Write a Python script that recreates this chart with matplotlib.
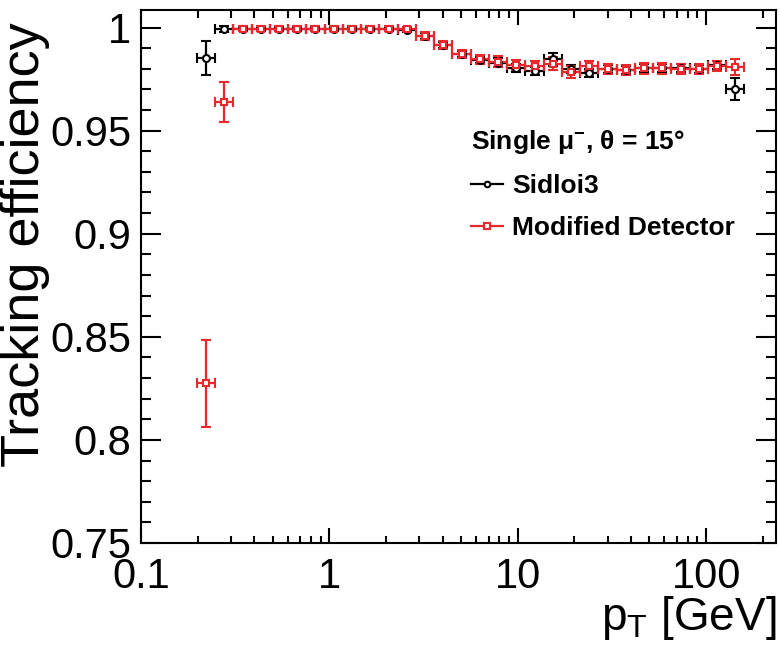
import matplotlib
matplotlib.use('Agg')
import matplotlib.pyplot as plt
import numpy as np
from matplotlib.lines import Line2D
from matplotlib.ticker import FuncFormatter, MultipleLocator, LogLocator

plt.rcParams['font.family'] = ['Liberation Sans', 'DejaVu Sans']
plt.rcParams['mathtext.fontset'] = 'custom'
plt.rcParams['mathtext.rm'] = 'Liberation Sans'
plt.rcParams['mathtext.it'] = 'Liberation Sans'
plt.rcParams['mathtext.bf'] = 'Liberation Sans:bold'

# pT bin centres (GeV)
pt = [0.221, 0.277, 0.346, 0.432, 0.540, 0.675, 0.844, 1.055, 1.319, 1.649,
      2.061, 2.576, 3.220, 4.025, 5.031, 6.289, 7.861, 9.827, 12.28, 15.35,
      19.19, 23.99, 29.99, 37.49, 46.86, 58.57, 73.22, 91.52, 114.4, 143.0]

eff_sid = [0.9851, 0.9992, 0.9995, 0.9995, 0.9995, 0.9995, 0.9995, 0.9995, 0.9995, 0.9995,
           0.9993, 0.9990, 0.9958, 0.9917, 0.9872, 0.9843, 0.9830, 0.9803, 0.9790, 0.9845,
           0.9800, 0.9780, 0.9800, 0.9795, 0.9804, 0.9804, 0.9804, 0.9800, 0.9818, 0.9703]
err_sid = [0.0083, 0.0015, 0.0008, 0.0008, 0.0008, 0.0008, 0.0008, 0.0008, 0.0008, 0.0008,
           0.0008, 0.0010, 0.0015, 0.0015, 0.0015, 0.0015, 0.0020, 0.0020, 0.0020, 0.0030,
           0.0020, 0.0020, 0.0020, 0.0020, 0.0020, 0.0020, 0.0020, 0.0020, 0.0020, 0.0053]

eff_mod = [0.8275, 0.9637, 0.9995, 0.9995, 0.9995, 0.9995, 0.9995, 0.9995, 0.9995, 0.9995,
           0.9995, 0.9993, 0.9960, 0.9915, 0.9872, 0.9845, 0.9835, 0.9818, 0.9812, 0.9825,
           0.9785, 0.9812, 0.9800, 0.9795, 0.9802, 0.9802, 0.9800, 0.9800, 0.9815, 0.9808]
err_mod = [0.0210, 0.0097, 0.0010, 0.0010, 0.0010, 0.0010, 0.0010, 0.0010, 0.0010, 0.0010,
           0.0010, 0.0010, 0.0020, 0.0020, 0.0020, 0.0020, 0.0025, 0.0025, 0.0025, 0.0030,
           0.0030, 0.0025, 0.0025, 0.0025, 0.0025, 0.0025, 0.0025, 0.0025, 0.0025, 0.0040]

RED = '#e8282d'
HALF = 1.118  # half bin width as a ratio (log bins)

fig = plt.figure(figsize=(7.8, 6.5), dpi=100)
ax = fig.add_axes([141/780, 1 - 543/650, 635/780, 533/650])

x = np.array(pt)
xerr = [x - x / HALF, x * HALF - x]

for eff, err, col, mk in [(eff_sid, err_sid, 'black', 'o'), (eff_mod, err_mod, RED, 's')]:
    ax.errorbar(x, eff, yerr=err, xerr=xerr, fmt=mk, color=col, mfc='white', mec=col,
                ms=5, mew=1.5, elinewidth=1.6, capsize=3.6, capthick=1.6, zorder=3)

ax.set_xscale('log')
ax.set_xlim(0.1, 235)
ax.set_ylim(0.75, 1.0085)
ax.xaxis.set_major_locator(LogLocator(base=10, numticks=10))
ax.xaxis.set_minor_locator(LogLocator(base=10, subs=np.arange(2, 10), numticks=20))
ax.xaxis.set_major_formatter(FuncFormatter(lambda v, p: f'{v:g}'))
ax.yaxis.set_major_locator(MultipleLocator(0.05))
ax.yaxis.set_minor_locator(MultipleLocator(0.01))
ax.yaxis.set_major_formatter(FuncFormatter(lambda v, p: f'{v:g}'))

ax.tick_params(axis='both', which='both', direction='in', top=True, right=True,
               width=1.5, labelsize=30)
ax.tick_params(axis='y', which='major', length=14.4, pad=7)
ax.tick_params(axis='y', which='minor', length=7.2)
ax.tick_params(axis='x', which='major', length=10.8, pad=10)
ax.tick_params(axis='x', which='minor', length=5.4)
for s in ax.spines.values():
    s.set_linewidth(1.5)

ax.set_ylabel('Tracking efficiency', fontsize=39, loc='top')
ax.yaxis.set_label_coords(-0.143, 0.977)
ax.set_xlabel(r'$\mathregular{p_{T}}$ [GeV]', fontsize=33, loc='right')
ax.xaxis.set_label_coords(1.0, -0.095)

handles = [
    Line2D([0], [0], color='black', marker='o', mfc='white', mec='black', ms=4, mew=1.5, lw=1.6),
    Line2D([0], [0], color=RED, marker='s', mfc='white', mec=RED, ms=4, mew=1.5, lw=1.6),
]
leg = ax.legend(handles, ['Sidloi3', 'Modified Detector'],
                title=r'Single $\mathregular{\mu^{-}}$, θ = 15°',
                loc='upper left', bbox_to_anchor=(453/780, 1 - 110/650),
                bbox_transform=fig.transFigure, frameon=False, alignment='left',
                prop={'size': 19, 'weight': 'bold'}, handlelength=1.2,
                handletextpad=0.35, labelspacing=0.68, borderpad=0.2)
leg.get_title().set_fontsize(19)
leg.get_title().set_fontweight('bold')

fig.savefig('out.png', dpi=100)
